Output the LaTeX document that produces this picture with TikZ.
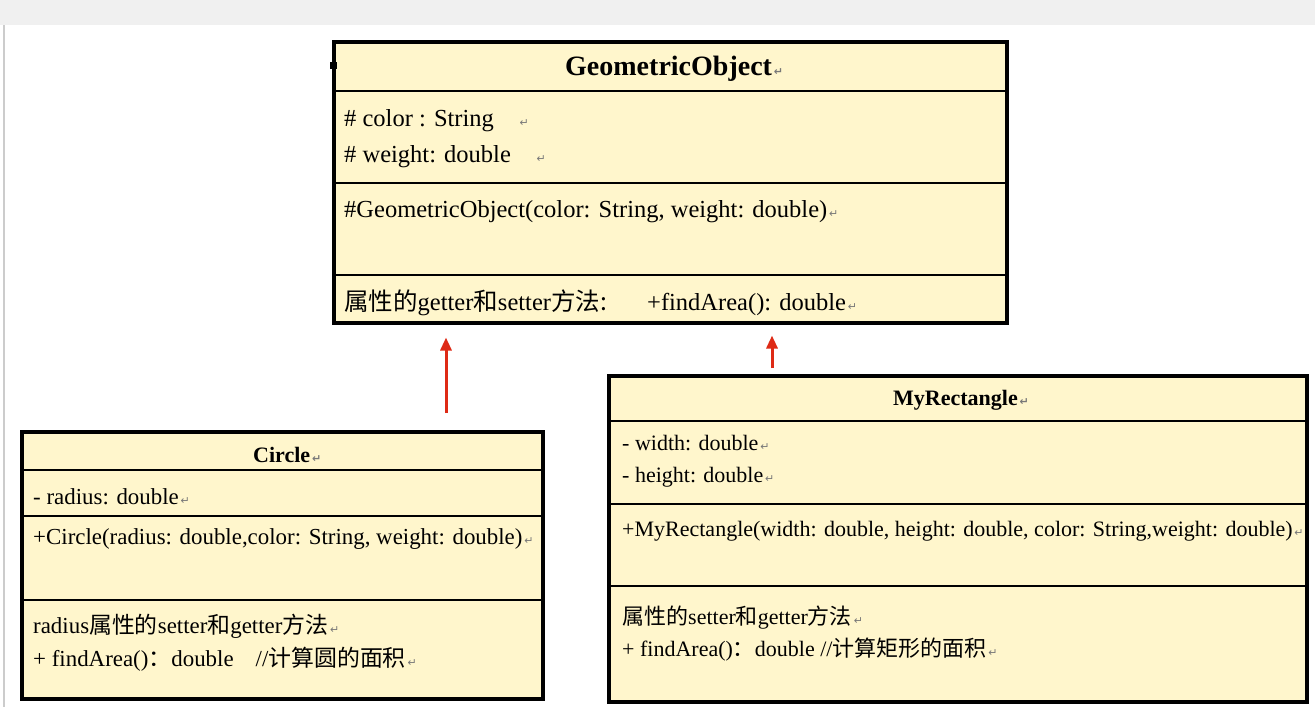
\documentclass[tikz,border=0pt]{standalone}
\usepackage{fontspec}
\setmainfont{Liberation Serif}
\newfontfamily\cjk{Noto Sans CJK SC}
\newfontfamily\symf{DejaVu Sans}
\usetikzlibrary{arrows.meta}
\definecolor{umlfill}{RGB}{255,246,204}
\definecolor{arrowred}{RGB}{222,42,22}
\definecolor{barGray}{RGB}{240,240,240}
\definecolor{retgray}{RGB}{120,120,120}
\newcommand\rmk{{\symf\color{retgray}\fontsize{11}{11}\selectfont\,↵}}
\newcommand\fsz[1]{\fontsize{#1}{#1}\selectfont}
\begin{document}
\begin{tikzpicture}[x=1pt,y=-1pt,
  classbox/.style={draw=black,line width=3.5pt,fill=umlfill,inner sep=0pt,anchor=north west},
  divider/.style={line width=1.6pt},
  txt/.style={anchor=mid west,inner sep=0pt,yshift=-5pt},
  ttl/.style={anchor=mid west,inner sep=0pt,yshift=-5pt},
  inherit/.style={draw=arrowred,line width=3pt,-{Triangle[width=11pt,length=13pt]}}]
\useasboundingbox (0,0) rectangle (1315,707);
\fill[white] (0,0) rectangle (1315,707);
\fill[barGray] (0,0) rectangle (1315,25);
\draw[barGray!85!black,line width=1.5pt] (4,25) -- (4,707);

% GeometricObject
\node[classbox,minimum width=673pt,minimum height=281pt] (geo) at (332,40) {};
\draw[divider] (geo.west |- 0,91) -- (geo.east |- 0,91);
\draw[divider] (geo.west |- 0,183) -- (geo.east |- 0,183);
\draw[divider] (geo.west |- 0,275) -- (geo.east |- 0,275);
\fill (330,62) rectangle (337,69);
\node[ttl,font=\fsz{28}\bfseries] (geoT) at (565,68) {GeometricObject\rmk};
\node[txt,font=\fsz{24.5}] (geoA1) at (344,119) {\# color : String\hspace{24pt}\rmk};
\node[txt,font=\fsz{24.5}] (geoA2) at (344,155) {\# weight: double\hspace{24pt}\rmk};
\node[txt,font=\fsz{24.5}] (geoC) at (344,210) {\#GeometricObject(color: String, weight: double)\rmk};
\node[txt,font=\fsz{24.5}] (geoM1) at (344,303) {{\cjk 属性的}getter{\cjk 和}setter{\cjk 方法:}};
\node[txt,font=\fsz{24.5}] (geoM2) at (647,303) {+findArea(): double\rmk};

% Circle
\node[classbox,minimum width=521pt,minimum height=267pt] (circ) at (20,430) {};
\draw[divider] (circ.west |- 0,470) -- (circ.east |- 0,470);
\draw[divider] (circ.west |- 0,516) -- (circ.east |- 0,516);
\draw[divider] (circ.west |- 0,600) -- (circ.east |- 0,600);
\node[ttl,font=\fsz{22}\bfseries] (circT) at (253,455) {Circle\rmk};
\node[txt,font=\fsz{22.9}] (circA) at (33,497) {- radius: double\rmk};
\node[txt,font=\fsz{22.9}] (circC) at (33,537) {+Circle(radius: double,color: String, weight: double)\rmk};
\node[txt,font=\fsz{22.9}] (circM1) at (33,626) {radius{\cjk 属性的}setter{\cjk 和}getter{\cjk 方法}\rmk};
\node[txt,font=\fsz{22.9}] (circM2) at (33,659) {+ findArea(){\cjk ：}double\hspace{22pt}//{\cjk 计算圆的面积}\rmk};

% MyRectangle
\node[classbox,minimum width=698pt,minimum height=326pt] (rect) at (607,374) {};
\draw[divider] (rect.west |- 0,421) -- (rect.east |- 0,421);
\draw[divider] (rect.west |- 0,504) -- (rect.east |- 0,504);
\draw[divider] (rect.west |- 0,586) -- (rect.east |- 0,586);
\node[ttl,font=\fsz{22}\bfseries] (rectT) at (893,398) {MyRectangle\rmk};
\node[txt,font=\fsz{22}] (rectA1) at (622,443) {- width: double\rmk};
\node[txt,font=\fsz{22}] (rectA2) at (622,475) {- height: double\rmk};
\node[txt,font=\fsz{22}] (rectC) at (622,529) {+MyRectangle(width: double, height: double, color: String,weight: double)\rmk};
\node[txt,font=\fsz{22}] (rectM1) at (622,617) {{\cjk 属性的}setter{\cjk 和}getter{\cjk 方法}\rmk};
\node[txt,font=\fsz{22}] (rectM2) at (622,649) {+ findArea(){\cjk ：}double //{\cjk 计算矩形的面积}\rmk};

% inheritance arrows
\coordinate (a1) at (446,413);
\coordinate (a2) at (772,368);
\draw[inherit,shorten >=13pt] (a1) -- (a1 |- geo.south);
\draw[inherit,shorten >=11pt] (a2) -- (a2 |- geo.south);
\end{tikzpicture}
\end{document}
